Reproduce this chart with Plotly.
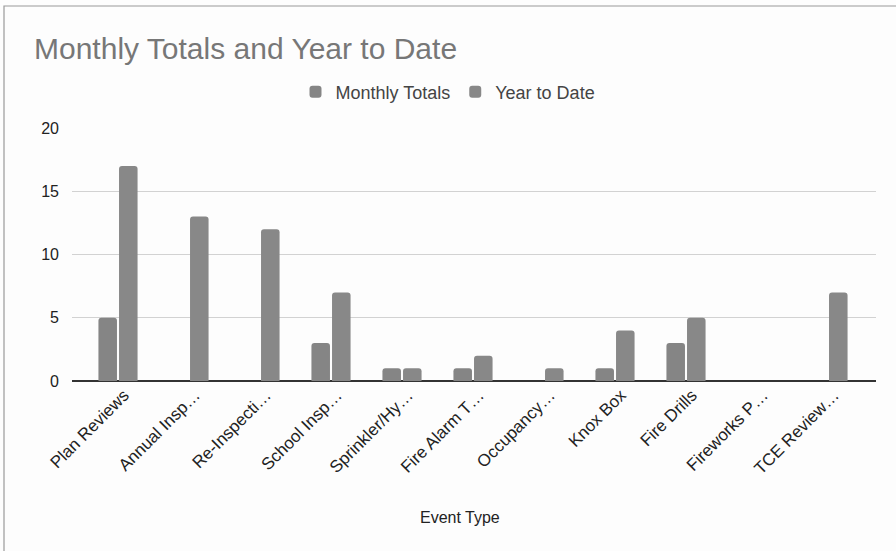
import plotly.graph_objects as go

# Event categories (long names are shortened the way the sheet shows them)
categories = [
    "Plan Reviews", "Annual Insp…", "Re-Inspecti…", "School Insp…",
    "Sprinkler/Hy…", "Fire Alarm T…", "Occupancy…", "Knox Box",
    "Fire Drills", "Fireworks P…", "TCE Review…",
]
monthly_totals = [5, None, None, 3, 1, 1, None, 1, 3, None, None]
year_to_date = [17, 13, 12, 7, 1, 2, 1, 4, 5, None, 7]

y_ticks = [0, 5, 10, 15, 20]

W, H = 896, 551
L, R, T, B = 72, 20, 128, 170
PW, PH = W - L - R, H - T - B

FONT = "Liberation Sans, Arial, sans-serif"

fig = go.Figure()
fig.add_trace(go.Bar(name="Monthly Totals", x=categories, y=monthly_totals,
                     marker=dict(color="#858585", line=dict(width=0))))
fig.add_trace(go.Bar(name="Year to Date", x=categories, y=year_to_date,
                     marker=dict(color="#888888", line=dict(width=0))))


def px_to_paper_x(px):
    return (px - L) / PW


def px_to_paper_y(py):
    return (H - B - py) / PH


# category slots are ~71px wide, with padding at both ends of the axis
slot = 71.0
x_start = -(118 - L) / slot
x_end = x_start + PW / slot

fig.update_layout(
    width=W, height=H,
    margin=dict(l=L, r=R, t=T, b=B, pad=0),
    paper_bgcolor="#fdfdfd",
    plot_bgcolor="#fdfdfd",
    font=dict(family=FONT, color="#222222"),
    barmode="group",
    bargap=0.42,
    bargroupgap=0.1,
    barcornerradius=3,
    title=dict(
        text="Monthly Totals and Year to Date",
        x=34 / W, xanchor="left", xref="container",
        y=1 - 48 / H, yanchor="middle", yref="container",
        font=dict(family=FONT, size=30, color="#777777"),
    ),
    legend=dict(
        orientation="h",
        x=0.5, xanchor="center", xref="container",
        y=1 - 92 / H, yanchor="middle", yref="container",
        font=dict(family=FONT, size=18, color="#444444"),
        itemwidth=30,
        traceorder="normal",
    ),
    showlegend=True,
    xaxis=dict(
        range=[x_start, x_end],
        tickangle=-45,
        tickfont=dict(family=FONT, size=17, color="#222222"),
        ticklabelshift=6,
        showgrid=False,
        showline=False,
        ticks="",
        automargin=False,
    ),
    yaxis=dict(
        range=[0, 20],
        tickvals=y_ticks,
        tickfont=dict(family=FONT, size=16, color="#222222"),
        gridcolor="#d2d2d2",
        gridwidth=1,
        zeroline=True,
        zerolinecolor="#333333",
        zerolinewidth=1.5,
        ticks="",
        ticklabelstandoff=12,
        automargin=False,
    ),
    annotations=[
        # x-axis title
        dict(text="Event Type", xref="paper", yref="paper",
             x=px_to_paper_x(460), y=px_to_paper_y(517),
             xanchor="center", yanchor="middle",
             showarrow=False, font=dict(family=FONT, size=16, color="#222222")),
    ],
    shapes=[
        dict(type="rect", xref="paper", yref="paper",
             x0=px_to_paper_x(4), x1=px_to_paper_x(W + 4),
             y0=px_to_paper_y(H + 4), y1=px_to_paper_y(6),
             line=dict(color="#9a9a9a", width=1.2), fillcolor="rgba(0,0,0,0)",
             layer="below"),
    ],
)

fig.write_html("out.html")
